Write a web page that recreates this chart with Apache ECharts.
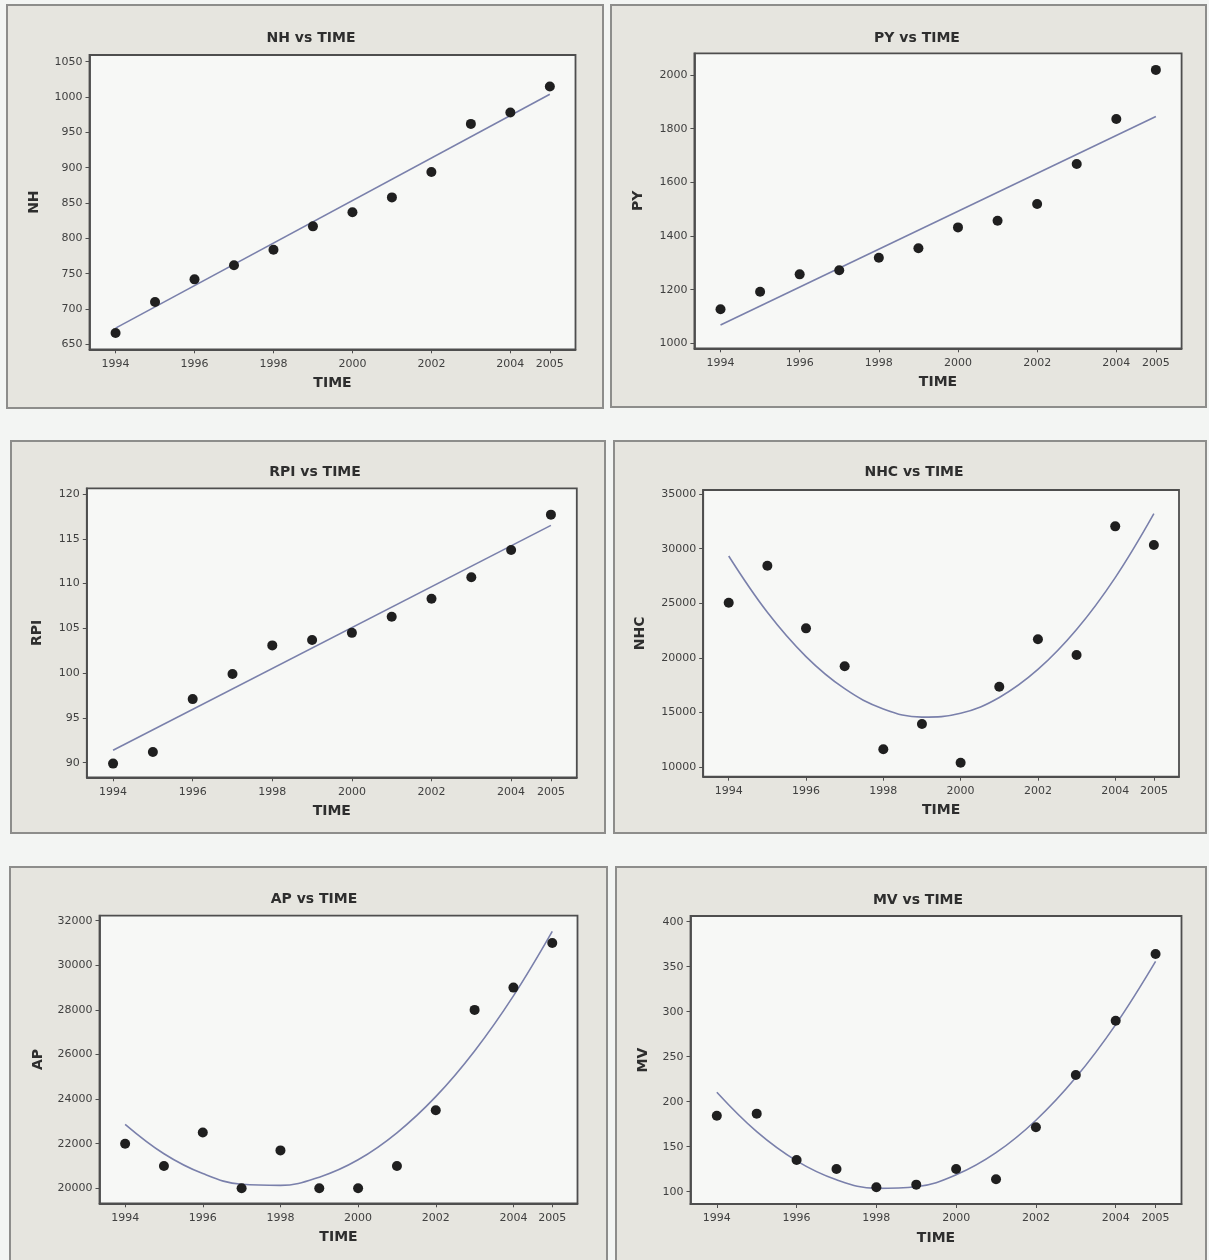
<!DOCTYPE html>
<html>
<head>
<meta charset="utf-8">
<script src="https://cdn.jsdelivr.net/npm/echarts@6/dist/echarts.min.js"></script>
<style>
html,body{margin:0;padding:0;background:#f3f5f3;}
#c{width:1209px;height:1260px;}
</style>
</head>
<body>
<div id="c"></div>
<script>
// ---- data ----
const years = [1994, 1995, 1996, 1997, 1998, 1999, 2000, 2001, 2002, 2003, 2004, 2005];
const xTicks = [1994, 1996, 1998, 2000, 2002, 2004, 2005];

const nhValues  = [666, 710, 742, 762, 784, 817, 837, 858, 894, 962, 978, 1015];
const nhFitYears = [1994, 2005];
const nhFit = [673, 1004];
const nhTicks = [650, 700, 750, 800, 850, 900, 950, 1000, 1050];

const pyValues  = [1127, 1192, 1257, 1272, 1319, 1354, 1432, 1457, 1519, 1668, 1836, 2019];
const pyFitYears = [1994, 2005];
const pyFit = [1068, 1845];
const pyTicks = [1000, 1200, 1400, 1600, 1800, 2000];

const rpiValues = [89.9, 91.2, 97.1, 99.9, 103.1, 103.7, 104.5, 106.3, 108.3, 110.7, 113.75, 117.7];
const rpiFitYears = [1994, 2005];
const rpiFit = [91.4, 116.5];
const rpiTicks = [90, 95, 100, 105, 110, 115, 120];

const nhcValues = [25050, 28440, 22710, 19240, 11650, 13960, 10420, 17370, 21710, 20270, 32040, 30330];
const nhcFit = [29330, 24180, 20130, 17190, 15340, 14590, 14940, 16390, 18950, 22600, 27350, 33200];
const nhcTicks = [10000, 15000, 20000, 25000, 30000, 35000];

const apValues = [22000, 21000, 22500, 20000, 21700, 20000, 20000, 21000, 23500, 28000, 29000, 31000];
const apFit = [22870, 21550, 20660, 20180, 20130, 20500, 21280, 22490, 24110, 26160, 28630, 31520];
const apTicks = [20000, 22000, 24000, 26000, 28000, 30000, 32000];

const mvValues = [184.4, 186.7, 135.2, 125.2, 104.9, 107.8, 125.2, 113.8, 171.6, 229.7, 290, 364.1];
const mvFit = [210.4, 166.6, 134.2, 113.2, 103.7, 105.5, 118.7, 143.3, 179.4, 226.8, 285.6, 355.8];
const mvTicks = [100, 150, 200, 250, 300, 350, 400];

// ---- layout ----
const panels = [
  {name:'NH',  vals:nhValues,  fx:nhFitYears,  fy:nhFit,  ticks:nhTicks,  ymin:643,   ymax:1059.5, smooth:false,
   box:[7,5,596,403],   grid:[89.5,55,486,294.3],   title:[306,26],  yGap:48},
  {name:'PY',  vals:pyValues,  fx:pyFitYears,  fy:pyFit,  ticks:pyTicks,  ymin:981.4, ymax:2080.9, smooth:false,
   box:[611,5,595,402], grid:[694.4,53.3,487.2,295], title:[912,26], yGap:49},
  {name:'RPI', vals:rpiValues, fx:rpiFitYears, fy:rpiFit, ticks:rpiTicks, ymin:88.37, ymax:120.64, smooth:false,
   box:[11,441,594,392], grid:[86.8,488.3,490,289],  title:[310,460], yGap:42},
  {name:'NHC', vals:nhcValues, fx:years,       fy:nhcFit, ticks:nhcTicks, ymin:9140,  ymax:35366, smooth:0.4,
   box:[614,441,592,392], grid:[703.2,490,475.8,286.7], title:[909,460], yGap:56},
  {name:'AP',  vals:apValues,  fx:years,       fy:apFit,  ticks:apTicks,  ymin:19327, ymax:32224, smooth:0.4,
   box:[10,867,597,400], grid:[99.5,915.7,478,287.6], title:[309,887], yGap:54},
  {name:'MV',  vals:mvValues,  fx:years,       fy:mvFit,  ticks:mvTicks,  ymin:86.3,  ymax:406.3, smooth:0.4,
   box:[616,867,590,400], grid:[690.5,916,491,288], title:[913,888], yGap:40}
];

const FONT = 'DejaVu Sans';
const axisColor = '#4e4e4e';
const labelColor = '#3f3f3f';

const option = {
  backgroundColor: '#f3f5f3',
  animation: false,
  graphic: panels.map(p => ({
    type: 'rect', z: -10, silent: true,
    shape: {x: p.box[0], y: p.box[1], width: p.box[2], height: p.box[3]},
    style: {fill: '#e6e5df', stroke: '#8d8d8b', lineWidth: 2}
  })),
  title: panels.map(p => ({
    text: p.name + ' vs TIME',
    left: p.title[0], top: p.title[1], textAlign: 'center',
    textStyle: {fontFamily: FONT, fontSize: 14, fontWeight: 'bold', color: '#2e2e2e'}
  })),
  grid: panels.map(p => ({
    left: p.grid[0], top: p.grid[1], width: p.grid[2], height: p.grid[3],
    show: true, backgroundColor: '#f7f8f6', borderColor: axisColor, borderWidth: 1.8,
    containLabel: false
  })),
  xAxis: panels.map((p, i) => ({
    type: 'value', gridIndex: i, min: 1993.34, max: 2005.65,
    name: 'TIME', nameLocation: 'middle', nameGap: 27,
    nameTextStyle: {fontFamily: FONT, fontSize: 14, fontWeight: 'bold', color: '#2e2e2e'},
    axisLine: {show: true, onZero: false, lineStyle: {color: axisColor, width: 1.8}},
    axisTick: {show: true, customValues: xTicks, length: 4, lineStyle: {color: axisColor}},
    axisLabel: {customValues: xTicks, margin: 9, fontFamily: FONT, fontSize: 11, color: labelColor,
                formatter: v => String(v)},
    splitLine: {show: false}
  })),
  yAxis: panels.map((p, i) => ({
    type: 'value', gridIndex: i, min: p.ymin, max: p.ymax,
    name: p.name, nameLocation: 'middle', nameGap: p.yGap,
    nameTextStyle: {fontFamily: FONT, fontSize: 14, fontWeight: 'bold', color: '#2e2e2e'},
    axisLine: {show: true, onZero: false, lineStyle: {color: axisColor, width: 1.8}},
    axisTick: {show: true, customValues: p.ticks, length: 4, lineStyle: {color: axisColor}},
    axisLabel: {customValues: p.ticks, margin: 7, fontFamily: FONT, fontSize: 11, color: labelColor,
                formatter: v => String(v)},
    splitLine: {show: false}
  })),
  series: panels.flatMap((p, i) => [
    {
      type: 'line', xAxisIndex: i, yAxisIndex: i, smooth: p.smooth, symbol: 'none',
      data: p.fx.map((x, k) => [x, p.fy[k]]),
      lineStyle: {color: '#7a80ab', width: 1.6}, z: 2
    },
    {
      type: 'scatter', xAxisIndex: i, yAxisIndex: i, symbolSize: 10,
      data: years.map((x, k) => [x, p.vals[k]]),
      itemStyle: {color: '#1f1f1f', opacity: 1}, z: 3
    }
  ])
};

const chart = echarts.init(document.getElementById('c'), null, {renderer: 'canvas'});
chart.setOption(option);
</script>
</body>
</html>
